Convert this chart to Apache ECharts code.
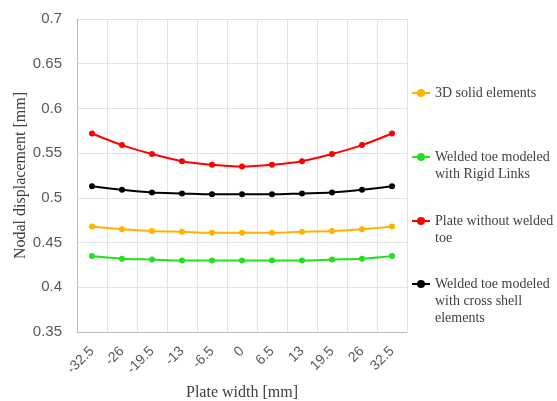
<!DOCTYPE html>
<html>
<head>
<meta charset="utf-8">
<script src="https://cdn.jsdelivr.net/npm/echarts@6/dist/echarts.min.js"></script>
<style>html,body{margin:0;padding:0;background:#fff}#c{width:557px;height:401px}</style>
</head>
<body>
<div id="c"></div>
<script>
const categories = ['-32.5','-26','-19.5','-13','-6.5','0','6.5','13','19.5','26','32.5'];
const solid3D   = [0.468,0.465,0.463,0.462,0.461,0.461,0.461,0.462,0.463,0.465,0.468];
const rigidLinks = [0.435,0.432,0.431,0.430,0.430,0.430,0.430,0.430,0.431,0.432,0.435];
const plainPlate = [0.572,0.559,0.549,0.541,0.537,0.535,0.537,0.541,0.549,0.559,0.572];
const crossShell = [0.513,0.509,0.506,0.505,0.504,0.504,0.504,0.505,0.506,0.509,0.513];
const yTicks = { min: 0.35, max: 0.7, interval: 0.05 };

const names = ['3D solid elements', 'Welded toe modeled\nwith Rigid Links', 'Plate without welded\ntoe', 'Welded toe modeled\nwith cross shell\nelements'];
const colors = ['#FFB300', '#22E022', '#FF0000', '#000000'];
const values = [solid3D, rigidLinks, plainPlate, crossShell];
const LH = 17;
const legendFirstLine = [93, 157, 221, 284];

const legends = names.map((n, i) => {
  const lines = n.split('\n').length;
  const H = (2 * lines - 1) * LH;
  return {
    orient: 'vertical',
    left: 411,
    top: legendFirstLine[i] - H / 2,
    padding: 0,
    itemWidth: 18,
    itemHeight: 10,
    data: [n],
    formatter: name => '\n'.repeat(lines - 1) + name,
    textStyle: { fontFamily: 'Liberation Serif', fontSize: 14, color: '#404040', lineHeight: LH }
  };
});

const chart = echarts.init(document.getElementById('c'));
chart.setOption({
  animation: false,
  backgroundColor: '#fff',
  grid: { left: 77, right: 150, top: 19, bottom: 69, containLabel: false, outerBoundsMode: 'none' },
  legend: legends,
  xAxis: {
    type: 'category',
    data: categories,
    boundaryGap: true,
    name: 'Plate width [mm]',
    nameLocation: 'middle',
    nameGap: 53,
    nameMoveOverlap: false,
    nameTextStyle: { fontFamily: 'Liberation Serif', fontSize: 16, color: '#404040' },
    axisLine: { lineStyle: { color: '#bfbfbf', width: 1 } },
    axisTick: { show: false },
    axisLabel: { rotate: 45, margin: 17, fontFamily: 'Liberation Sans', fontSize: 14, color: '#595959', interval: 0 },
    splitLine: { show: true, interval: 0, lineStyle: { color: '#e3e3e3' } }
  },
  yAxis: {
    type: 'value',
    min: yTicks.min, max: yTicks.max, interval: yTicks.interval,
    name: 'Nodal displacement [mm]',
    nameLocation: 'middle',
    nameGap: 48,
    nameMoveOverlap: false,
    nameTextStyle: { fontFamily: 'Liberation Serif', fontSize: 16, color: '#404040' },
    axisLine: { show: true, lineStyle: { color: '#bfbfbf', width: 1 } },
    axisTick: { show: false },
    axisLabel: { margin: 15, fontFamily: 'Liberation Sans', fontSize: 15, color: '#595959',
      formatter: v => String(parseFloat(v.toFixed(2))) },
    splitLine: { lineStyle: { color: '#e3e3e3' } }
  },
  series: names.map((n, i) => ({
    name: n,
    type: 'line',
    data: values[i],
    smooth: 0.3,
    symbol: 'circle',
    symbolSize: 6,
    itemStyle: { color: colors[i] },
    lineStyle: { color: colors[i], width: 2 }
  }))
});
</script>
</body>
</html>
